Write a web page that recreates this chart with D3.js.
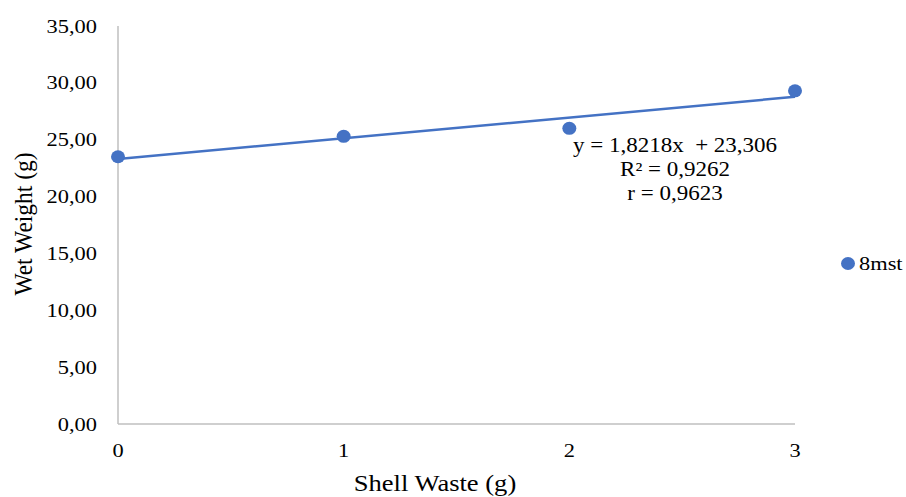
<!DOCTYPE html>
<html>
<head>
<meta charset="utf-8">
<script src="https://cdn.jsdelivr.net/npm/d3@7"></script>
<style>
  body { margin: 0; background: #fff; }
</style>
</head>
<body>
<div id="chart"></div>
<script>
// data
const shellWaste = [0, 1, 2, 3];
const wetWeight = [23.5, 25.3, 26.0, 29.3];
const yTicks = [0, 5, 10, 15, 20, 25, 30, 35];
const xTicks = [0, 1, 2, 3];
const trendSlope = 1.8218;
const trendIntercept = 23.306;
const eqLines = ["y = 1,8218x  + 23,306", "R² = 0,9262", "r = 0,9623"];
const seriesName = "8mst";

const W = 906, H = 497;
const color = "#4472C4";
const serif = "'Liberation Serif', 'Times New Roman', 'DejaVu Serif', serif";
const sx = 1.18; // the reference text is a bit wider than plain Times

const svg = d3.select("#chart").append("svg")
  .attr("width", W).attr("height", H)
  .attr("font-family", serif);

const x = d3.scaleLinear().domain([0, 3]).range([118, 795]);
const y = d3.scaleLinear().domain([0, 35]).range([424, 26]);

const fmt = d => d.toFixed(2).replace(".", ",");

// axes (Excel-style: gray lines, no tick marks)
svg.append("line")
  .attr("x1", x(0)).attr("x2", x(0))
  .attr("y1", y(35)).attr("y2", y(0))
  .attr("stroke", "#bfbfbf").attr("stroke-width", 1.5);
svg.append("line")
  .attr("x1", x(0)).attr("x2", x(3))
  .attr("y1", y(0)).attr("y2", y(0))
  .attr("stroke", "#bfbfbf").attr("stroke-width", 1.5);

svg.selectAll(".ytick")
  .data(yTicks)
  .join("text")
  .attr("class", "ytick")
  .attr("transform", d => `translate(97,${y(d) + 6.5}) scale(${sx},1)`)
  .attr("text-anchor", "end")
  .attr("font-size", "19px")
  .text(fmt);

svg.selectAll(".xtick")
  .data(xTicks)
  .join("text")
  .attr("class", "xtick")
  .attr("transform", d => `translate(${x(d)},457) scale(${sx},1)`)
  .attr("text-anchor", "middle")
  .attr("font-size", "19px")
  .text(d => d);

// axis titles
svg.append("text")
  .attr("transform", `translate(435,491) scale(${sx},1)`)
  .attr("text-anchor", "middle")
  .attr("font-size", "22.5px")
  .text("Shell Waste (g)");

svg.append("text")
  .attr("transform", "translate(32,224) rotate(-90) scale(1,1.1)")
  .attr("text-anchor", "middle")
  .attr("font-size", "23.5px")
  .text("Wet Weight (g)");

// trend line
svg.append("line")
  .attr("x1", x(0)).attr("y1", y(trendIntercept))
  .attr("x2", x(3)).attr("y2", y(trendIntercept + trendSlope * 3))
  .attr("stroke", color).attr("stroke-width", 2.5);

// points
svg.selectAll(".pt")
  .data(shellWaste.map((d, i) => ({ x: d, y: wetWeight[i] })))
  .join("ellipse")
  .attr("class", "pt")
  .attr("cx", d => x(d.x))
  .attr("cy", d => y(d.y))
  .attr("rx", 7)
  .attr("ry", 6.5)
  .attr("fill", color);

// equation label
svg.selectAll(".eq")
  .data(eqLines)
  .join("text")
  .attr("class", "eq")
  .attr("transform", (d, i) => `translate(675,${152 + i * 24}) scale(1.15,1)`)
  .attr("text-anchor", "middle")
  .attr("font-size", "20px")
  .style("white-space", "pre")
  .text(d => d);

// legend
svg.append("ellipse")
  .attr("cx", 848).attr("cy", 263.5).attr("rx", 7).attr("ry", 6.5)
  .attr("fill", color);
svg.append("text")
  .attr("transform", `translate(859,270) scale(${sx},1)`)
  .attr("font-size", "19px")
  .text(seriesName);
</script>
</body>
</html>
